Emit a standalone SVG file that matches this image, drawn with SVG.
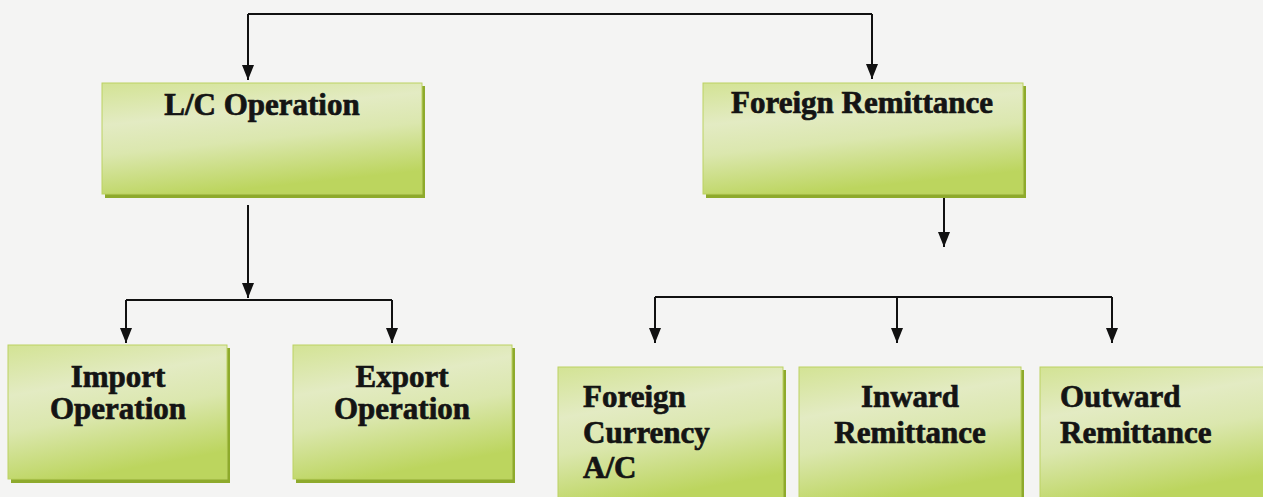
<svg xmlns="http://www.w3.org/2000/svg" width="1263" height="497" viewBox="0 0 1263 497">
  <style>
    .box { fill: url(#boxFill); stroke: #bcd163; stroke-width: 1; }
    .shadow { fill: #8eaa2c; }
    .label { font-family: "Liberation Serif", "Times New Roman", serif; font-weight: bold; font-size: 31px; fill: #141414; stroke: #141414; stroke-width: 0.7; }
    .mid { text-anchor: middle; }
    .wire { fill: none; stroke: #111; stroke-width: 2; }
    .arrow { marker-end: url(#head); }
  </style>
  <defs>
    <linearGradient id="boxFill" x1="0" y1="0" x2="0.3" y2="1">
      <stop offset="0" stop-color="#d3e394"/>
      <stop offset="0.35" stop-color="#e3ebc3"/>
      <stop offset="0.6" stop-color="#dbe7ae"/>
      <stop offset="1" stop-color="#bcd55e"/>
    </linearGradient>
    <marker id="head" viewBox="0 0 15 12" refX="15" refY="6" markerWidth="15" markerHeight="12" markerUnits="userSpaceOnUse" orient="auto">
      <path d="M0,0 L15,6 L0,12 z" fill="#111"/>
    </marker>
  </defs>

  <rect width="1263" height="497" fill="#f4f4f3"/>

  <!-- connectors -->
  <g id="connectors">
    <path class="wire" d="M248,14 H872"/>
    <path class="wire arrow" d="M248,14 V80"/>
    <path class="wire arrow" d="M872,14 V79"/>
    <path class="wire arrow" d="M248,205 V298"/>
    <path class="wire" d="M126,300 H392"/>
    <path class="wire arrow" d="M126,300 V343"/>
    <path class="wire arrow" d="M392,300 V343"/>
    <path class="wire arrow" d="M944,150 V247"/>
    <path class="wire" d="M655,297 H1112"/>
    <path class="wire arrow" d="M655,297 V343"/>
    <path class="wire arrow" d="M897,297 V343"/>
    <path class="wire arrow" d="M1112,297 V343"/>
  </g>

  <g id="lc-operation">
    <rect class="shadow" x="105" y="86" width="320" height="112"/>
    <rect class="box" x="102" y="83" width="320" height="111"/>
    <text class="label mid" x="262" y="115">L/C Operation</text>
  </g>

  <g id="foreign-remittance">
    <rect class="shadow" x="706" y="86" width="320" height="112"/>
    <rect class="box" x="703" y="83" width="320" height="111"/>
    <text class="label mid" x="862" y="113">Foreign Remittance</text>
  </g>

  <g id="import-operation">
    <rect class="shadow" x="11" y="348" width="219" height="135"/>
    <rect class="box" x="8" y="345" width="219" height="134"/>
    <text class="label mid" x="118" y="387">Import</text>
    <text class="label mid" x="118" y="419">Operation</text>
  </g>

  <g id="export-operation">
    <rect class="shadow" x="296" y="348" width="219" height="135"/>
    <rect class="box" x="293" y="345" width="219" height="134"/>
    <text class="label mid" x="402" y="387">Export</text>
    <text class="label mid" x="402" y="419">Operation</text>
  </g>

  <g id="foreign-currency-ac">
    <rect class="shadow" x="561" y="370" width="225" height="135"/>
    <rect class="box" x="558" y="367" width="225" height="135"/>
    <text class="label" x="583" y="407">Foreign</text>
    <text class="label" x="583" y="443">Currency</text>
    <text class="label" x="583" y="478">A/C</text>
  </g>

  <g id="inward-remittance">
    <rect class="shadow" x="802" y="370" width="222" height="135"/>
    <rect class="box" x="799" y="367" width="222" height="135"/>
    <text class="label mid" x="910" y="407">Inward</text>
    <text class="label mid" x="910" y="443">Remittance</text>
  </g>

  <g id="outward-remittance">
    <rect class="box" x="1040" y="367" width="228" height="135"/>
    <text class="label" x="1060" y="407">Outward</text>
    <text class="label" x="1060" y="443">Remittance</text>
  </g>
</svg>
